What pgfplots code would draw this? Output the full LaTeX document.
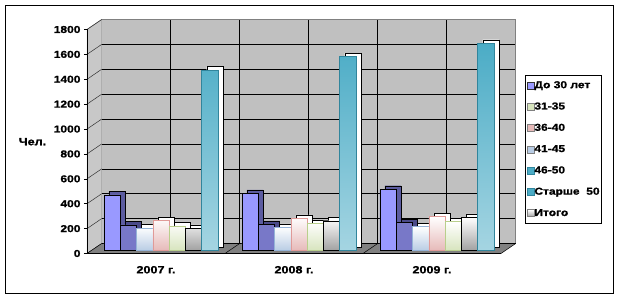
\documentclass[border=0pt]{standalone}
\usepackage{fontspec}
\setmainfont{Liberation Sans}[FakeStretch=1.2,BoldFeatures={FakeBold=1.2}]
\usepackage{pgfplots}
\pgfplotsset{compat=1.18}
\definecolor{wallgray}{HTML}{C0C0C0}
\definecolor{sidegray}{HTML}{C8C8C8}
\definecolor{floorgray}{HTML}{808080}
\definecolor{cA}{HTML}{9999FF}
\definecolor{cAd}{HTML}{5C5CA0}
\definecolor{cB}{HTML}{7878C8}
\definecolor{cBd}{HTML}{4A4A88}
\definecolor{cC}{HTML}{B8CCE4}
\definecolor{cCd}{HTML}{95B3D7}
\definecolor{cD}{HTML}{E6B9B8}
\definecolor{cDd}{HTML}{E09A98}
\definecolor{cE}{HTML}{D7E4BD}
\definecolor{cEd}{HTML}{B9CF8C}
\definecolor{cF}{HTML}{A0A0A0}
\definecolor{cFd}{HTML}{808080}
\definecolor{cG}{HTML}{4BACC6}
\definecolor{cGl}{HTML}{A5D5E2}
\definecolor{cGd}{HTML}{31859C}
\tikzset{back/.style={shift={(14.7pt,10pt)}}}
\begin{document}
\begin{tikzpicture}[font=\bfseries\fontsize{10}{12}\selectfont]
\begin{axis}[scale only axis,
  width=414pt,height=224pt,xmin=-0.5,xmax=2.5,ymin=0,ymax=1800,
  clip=false,axis on top,
  axis x line*=bottom,axis y line*=left,
  axis line style={black,line width=0.6pt,-},
  ytick={0,200,...,1800},
  xtick={0,1,2},xticklabels={2007 г.,2008 г.,2009 г.},
  major x tick style={draw=none},
  extra x ticks={-0.5,0.5,1.5,2.5},extra x tick labels={},
  extra x tick style={major tick length=4pt,tick align=outside,tick style={black,line width=0.6pt}},
  y tick style={black,line width=0.6pt},major tick length=3pt,tick align=outside,
  /pgf/number format/assume math mode=true,
  /pgf/number format/1000 sep={},
  ticklabel style={font=\bfseries\fontsize{10}{12}\selectfont},
  xticklabel style={yshift=-6pt,font=\bfseries\fontsize{10.5}{12}\selectfont},
  legend style={at={(1.058,0.797)},anchor=north west,draw=black,line width=0.8pt,
    inner xsep=1.5pt,inner ysep=5.3pt,row sep=11.8pt,
    nodes={inner sep=0pt,text height=7.5pt,text depth=2pt,font=\bfseries\fontsize{10}{12}\selectfont},
    /tikz/every even column/.append style={column sep=9pt}},
  legend cell align=left,
  legend image code/.code={\draw[line width=0.5pt,#1] (0pt,-3.5pt) rectangle (7pt,3.5pt);}]
% page extent and frame
\path ([shift={(-87pt,-45.5pt)}]rel axis cs:0,0) rectangle ([shift={(532pt,253.5pt)}]rel axis cs:0,0);
\draw[black,line width=0.8pt] ([shift={(-81.5pt,-39.8pt)}]rel axis cs:0,0) rectangle ([shift={(526.3pt,248.5pt)}]rel axis cs:0,0);
\node[font=\bfseries\fontsize{10.5}{12}\selectfont] at ([shift={(-54.5pt,111.8pt)}]rel axis cs:0,0) {Чел.};
% back wall
\fill[wallgray] ([back]axis cs:-0.5,0) rectangle ([back]axis cs:2.5,1800);
\pgfplotsinvokeforeach{0,200,...,1800}{
  \draw[black,line width=0.6pt] ([back]axis cs:-0.5,#1) -- ([back]axis cs:2.5,#1);
}
\pgfplotsinvokeforeach{0,0.5,...,2}{
  \draw[black,line width=0.6pt] ([back]axis cs:#1,0) -- ([back]axis cs:#1,1800);
}
\draw[gray,line width=0.6pt] ([back]axis cs:-0.5,0) rectangle ([back]axis cs:2.5,1800);
% side wall
\fill[sidegray] (axis cs:-0.5,0) -- ([back]axis cs:-0.5,0) -- ([back]axis cs:-0.5,1800) -- (axis cs:-0.5,1800) -- cycle;
\draw[gray,line width=0.6pt] (axis cs:-0.5,1800) -- ([back]axis cs:-0.5,1800);
\pgfplotsinvokeforeach{0,200,...,1800}{
  \draw[black!80,line width=0.5pt] (axis cs:-0.5,#1) -- ([back]axis cs:-0.5,#1);
}
% floor
\fill[floorgray] (axis cs:-0.5,0) -- (axis cs:2.5,0) -- ([back]axis cs:2.5,0) -- ([back]axis cs:-0.5,0) -- cycle;
\pgfplotsinvokeforeach{-0.5,0.5,1.5,2.5}{
  \draw[black,line width=0.5pt] (axis cs:#1,0) -- ([back]axis cs:#1,0);
}
\draw[black,line width=0.5pt] ([back]axis cs:-0.5,0) -- ([back]axis cs:2.5,0);
% bar depth (top and side faces)
\addplot[forget plot,ybar,bar width=16.3pt,bar shift=-38.9pt,yshift=6.3pt,fill=cAd,draw=black,line width=0.4pt] coordinates {(0,448) (1,461) (2,494)};
\addplot[forget plot,ybar,bar width=16.3pt,bar shift=-22.6pt,yshift=6.3pt,fill=cBd,draw=black,line width=0.4pt] coordinates {(0,207) (1,212) (2,225)};
\addplot[forget plot,ybar,bar width=16.3pt,bar shift=-6.3pt,yshift=6.3pt,fill=white,draw=black,line width=0.4pt] coordinates {(0,182) (1,188) (2,193)};
\addplot[forget plot,ybar,bar width=16.3pt,bar shift=10pt,yshift=6.3pt,fill=white,draw=black,line width=0.4pt] coordinates {(0,241) (1,260) (2,273)};
\addplot[forget plot,ybar,bar width=16.3pt,bar shift=26.3pt,yshift=6.3pt,fill=white,draw=black,line width=0.4pt] coordinates {(0,199) (1,220) (2,233)};
\addplot[forget plot,ybar,bar width=16.3pt,bar shift=42.6pt,yshift=6.3pt,fill=white,draw=black,line width=0.4pt] coordinates {(0,180) (1,241) (2,268)};
\addplot[forget plot,ybar,bar width=16.3pt,bar shift=58.9pt,yshift=6.3pt,fill=white,draw=black,line width=0.4pt] coordinates {(0,1452) (1,1559) (2,1667)};
% bar fronts
\addplot[forget plot,ybar,bar width=16.3pt,bar shift=-43.9pt,yshift=2.8pt,fill=cA,draw=black,line width=0.4pt] coordinates {(0,448) (1,461) (2,494)};
\addplot[forget plot,ybar,bar width=16.3pt,bar shift=-27.6pt,yshift=2.8pt,fill=cB,draw=black,line width=0.4pt] coordinates {(0,207) (1,212) (2,225)};
\addplot[forget plot,ybar,bar width=16.3pt,bar shift=-11.3pt,yshift=2.8pt,top color=white,bottom color=cC,draw=cCd,line width=0.5pt] coordinates {(0,182) (1,188) (2,193)};
\addplot[forget plot,ybar,bar width=16.3pt,bar shift=5pt,yshift=2.8pt,top color=white,bottom color=cD,draw=cDd,line width=0.5pt] coordinates {(0,241) (1,260) (2,273)};
\addplot[forget plot,ybar,bar width=16.3pt,bar shift=21.3pt,yshift=2.8pt,top color=white,bottom color=cE,draw=cEd,line width=0.5pt] coordinates {(0,199) (1,220) (2,233)};
\addplot[forget plot,ybar,bar width=16.3pt,bar shift=37.6pt,yshift=2.8pt,top color=white,bottom color=cF,draw=black,line width=0.4pt] coordinates {(0,180) (1,241) (2,268)};
\addplot[forget plot,ybar,bar width=16.3pt,bar shift=53.9pt,yshift=2.8pt,top color=cG,bottom color=cGl,draw=cGd,line width=0.5pt] coordinates {(0,1452) (1,1559) (2,1667)};
% legend
\addlegendimage{fill=cA,draw=black!80}
\addlegendentry{До 30 лет}
\addlegendimage{fill=cE,draw=gray}
\addlegendentry{31-35}
\addlegendimage{fill=cD,draw=gray}
\addlegendentry{36-40}
\addlegendimage{fill=cC,draw=gray}
\addlegendentry{41-45}
\addlegendimage{fill=cG,draw=cGd}
\addlegendentry{46-50}
\addlegendimage{fill=cG,draw=cGd}
\addlegendentry{Старше\ \ 50}
\addlegendimage{top color=white,bottom color=cF,draw=gray}
\addlegendentry{Итого}
\end{axis}
\end{tikzpicture}
\end{document}
